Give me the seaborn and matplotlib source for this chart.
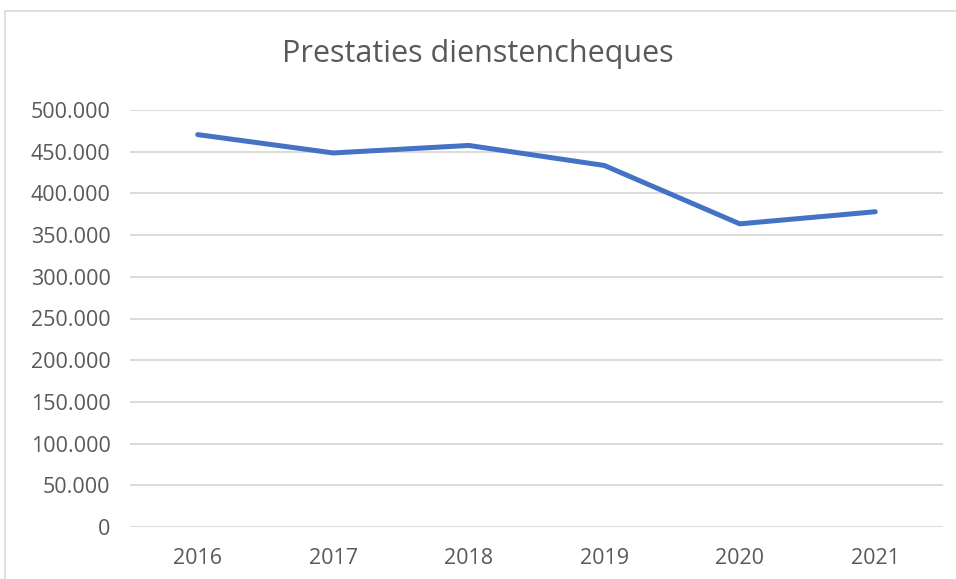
import matplotlib
matplotlib.use("Agg")
import matplotlib.pyplot as plt
import matplotlib.ticker as mticker
from matplotlib.patches import Rectangle
import seaborn as sns
import pandas as pd

# data
years = ["2016", "2017", "2018", "2019", "2020", "2021"]
prestaties = [470500, 448500, 457500, 433500, 363500, 378000]

title = "Prestaties dienstencheques"
line_color = "#4472C4"
text_color = "#595959"
grid_color = "#D9D9D9"

sns.set_style("white")
plt.rcParams["font.family"] = ["Open Sans", "DejaVu Sans"]

df = pd.DataFrame({"jaar": years, "aantal": prestaties})

fig = plt.figure(figsize=(9.56, 5.79), dpi=100)
ax = fig.add_axes([130 / 956, 1 - 527 / 579, (943 - 130) / 956, (527 - 110) / 579])

sns.lineplot(data=df, x="jaar", y="aantal", ax=ax, color=line_color,
             linewidth=3.6, solid_capstyle="round", sort=False)

ax.set_ylim(0, 500000)
ax.set_xlim(-0.5, len(years) - 0.5)
ax.yaxis.set_major_locator(mticker.MultipleLocator(50000))
ax.yaxis.set_major_formatter(mticker.FuncFormatter(
    lambda v, p: "0" if v == 0 else f"{int(v):,}".replace(",", ".")))
ax.grid(axis="y", color=grid_color, linewidth=1.3)
ax.set_axisbelow(True)
for s in ax.spines.values():
    s.set_visible(False)
ax.tick_params(axis="both", length=0, labelsize=15.5, colors=text_color)
ax.tick_params(axis="y", pad=14)
ax.tick_params(axis="x", pad=15)
ax.set_xlabel("")
ax.set_ylabel("")

fig.text(0.5, 1 - 54 / 579, title, ha="center", va="center",
         fontsize=22, color=text_color)

# chart frame (cut off at right/bottom like in the screenshot)
fig.patches.append(Rectangle((5 / 956, -0.1), 1.1, 1.1 - 11 / 579,
                             transform=fig.transFigure, fill=False,
                             edgecolor="#D9D9D9", linewidth=1.2))

fig.savefig("out.png", dpi=100)
